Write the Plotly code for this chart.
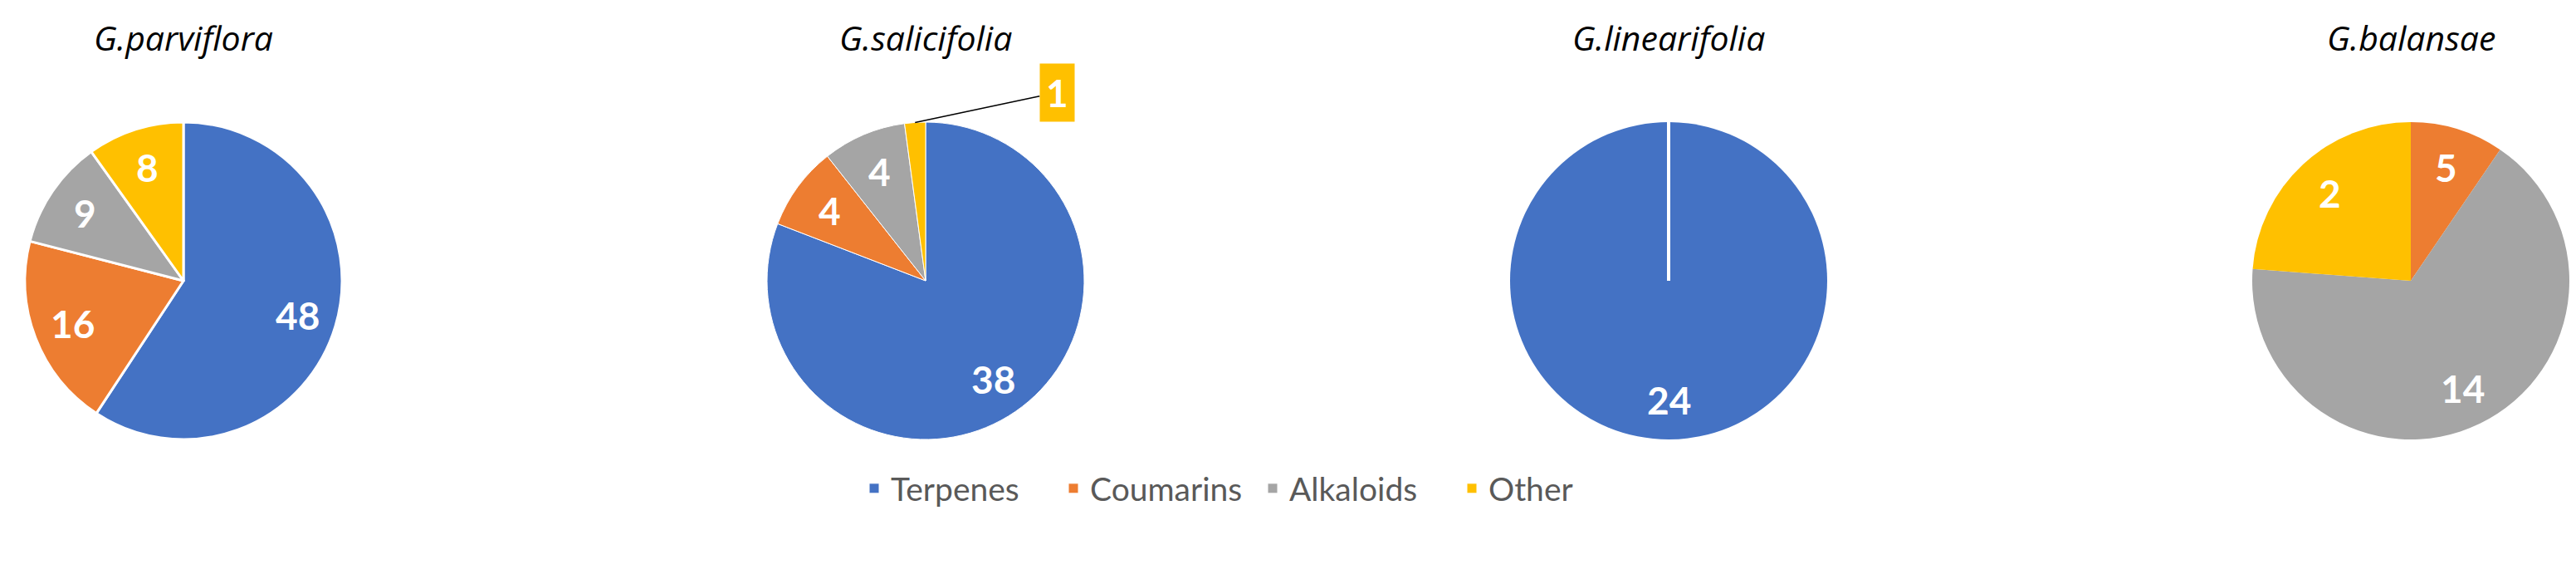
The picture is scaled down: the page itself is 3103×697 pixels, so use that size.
import math

import plotly.graph_objects as go

# --- data -------------------------------------------------------------------
species = ["G.parviflora", "G.salicifolia", "G.linearifolia", "G.balansae"]
classes = ["Terpenes", "Coumarins", "Alkaloids", "Other"]
colors = ["#4472C4", "#ED7D31", "#A5A5A5", "#FFC000"]

parviflora = [48, 16, 9, 8]
salicifolia = [38, 4, 4, 1]
linearifolia = [24, 0, 0, 0]
# balansae: slice sizes as drawn, and the numbers printed on them
balansae = [0, 2, 14, 5]
balansae_text = ["", "5", "14", "2"]

series = [parviflora, salicifolia, linearifolia, balansae]
texts = [
    [str(v) for v in parviflora],
    [str(v) for v in salicifolia],
    [str(v) for v in linearifolia],
    balansae_text,
]
callouts = {(1, 3)}  # the tiny "Other" slice of G.salicifolia gets a boxed label

# --- layout constants -------------------------------------------------------
W, H = 3103, 697
R = 191
CY = 330
centers_x = [213, 1107, 2002, 2896]
border_w = [3, 1, 0, 0]
LABEL_R = 0.75


def px_x(x):
    return x / W


def px_y(y):
    return 1 - y / H


fig = go.Figure()
annotations = []
shapes = []

for i, (name, vals) in enumerate(zip(species, series)):
    cx = centers_x[i]
    fig.add_trace(
        go.Pie(
            labels=classes,
            values=vals,
            sort=False,
            direction="clockwise",
            rotation=0,
            marker=dict(colors=colors, line=dict(color="white", width=border_w[i])),
            textinfo="none",
            hoverinfo="label+value",
            showlegend=(i == 1),
            domain=dict(
                x=[px_x(cx - R), px_x(cx + R)],
                y=[px_y(CY + R), px_y(CY - R)],
            ),
        )
    )

    # title
    annotations.append(
        dict(
            text=name, x=px_x(cx), y=px_y(37), xref="paper", yref="paper",
            showarrow=False, xanchor="center", yanchor="middle",
            font=dict(family="Open Sans", size=41, color="black", style="italic"),
        )
    )

    # value labels at the middle angle of each slice
    total = sum(vals)
    cum = 0
    for j, v in enumerate(vals):
        if v == 0:
            cum += v
            continue
        mid = math.radians((cum + v / 2) / total * 360)
        cum += v
        if (i, j) in callouts:
            hx = cx + R * math.sin(mid)
            hy = CY - R * math.cos(mid)
            annotations.append(
                dict(
                    text=texts[i][j], x=px_x(hx), y=px_y(hy), xref="paper", yref="paper",
                    showarrow=True, arrowhead=0, arrowwidth=1.5, arrowcolor="black",
                    ax=171, ay=-36, bgcolor=colors[j], borderpad=7,
                    font=dict(family="Lato", size=46, color="white", weight="bold"),
                )
            )
            continue
        lx = cx + LABEL_R * R * math.sin(mid)
        ly = CY - LABEL_R * R * math.cos(mid)
        annotations.append(
            dict(
                text=texts[i][j], x=px_x(lx), y=px_y(ly), xref="paper", yref="paper",
                showarrow=False, xanchor="center", yanchor="middle",
                font=dict(family="Lato", size=46, color="white", weight="bold"),
            )
        )

    # zero-size slices collapse to a white seam at 12 o'clock
    if vals.count(0) and vals[0] == total:
        shapes.append(
            dict(
                type="line", xref="paper", yref="paper",
                x0=px_x(cx), x1=px_x(cx), y0=px_y(CY), y1=px_y(CY - R),
                line=dict(color="white", width=4),
            )
        )

fig.update_layout(
    width=W,
    height=H,
    margin=dict(l=0, r=0, t=0, b=0),
    paper_bgcolor="white",
    plot_bgcolor="white",
    annotations=annotations,
    shapes=shapes,
    legend=dict(
        orientation="h",
        xanchor="left",
        x=px_x(1025),
        yanchor="middle",
        y=px_y(580),
        font=dict(family="Lato", size=39, color="#595959"),
        entrywidth=195,
        entrywidthmode="pixels",
    ),
)

fig.write_html("out.html")
